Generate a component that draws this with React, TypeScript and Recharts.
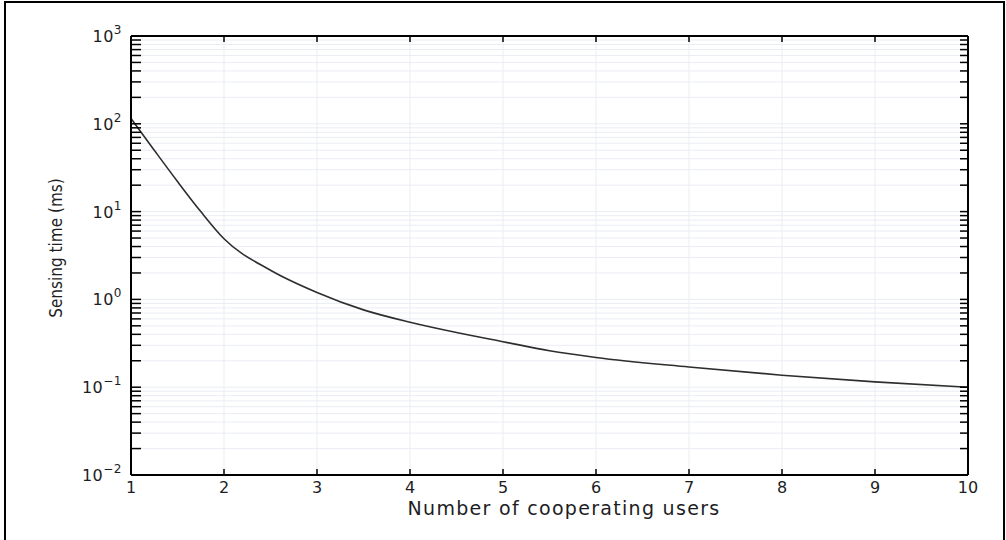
import React from "react"
import { LineChart, Line, XAxis, YAxis, CartesianGrid } from "recharts"

// number of cooperating users vs sensing time (ms)
const users = [1, 1.25, 1.5, 1.75, 2, 2.5, 3, 3.5, 4, 4.5, 5, 5.5, 6, 7, 8, 9, 10]
const sensingTime = [115, 50, 22, 10, 4.9, 2.15, 1.2, 0.76, 0.55, 0.42, 0.33, 0.26, 0.218, 0.17, 0.137, 0.115, 0.1]

const xTicks = [1, 2, 3, 4, 5, 6, 7, 8, 9, 10]
const yTicks = [
  0.01, 0.02, 0.03, 0.04, 0.05, 0.06, 0.07, 0.08, 0.09,
  0.1, 0.2, 0.3, 0.4, 0.5, 0.6, 0.7, 0.8, 0.9,
  1, 2, 3, 4, 5, 6, 7, 8, 9,
  10, 20, 30, 40, 50, 60, 70, 80, 90,
  100, 200, 300, 400, 500, 600, 700, 800, 900,
  1000,
]

const data = users.map((u, i) => ({ users: u, time: sensingTime[i] }))

const FONT = "'DejaVu Sans', Verdana, sans-serif"
const INK = "#1d1d24"

function isDecade(v: number) {
  const l = Math.log10(v)
  return Math.abs(l - Math.round(l)) < 1e-9
}

function LeftTick({ x, y, payload }: any) {
  const v = payload.value as number
  const exp = Math.round(Math.log10(v))
  return (
    <g>
      <line x1={x} x2={x + 10} y1={y} y2={y} stroke="#000" strokeWidth={1.5} />
      {isDecade(v) && (
        <text x={x - 9} y={y + 6} textAnchor="end" fontFamily={FONT} fontSize={16} letterSpacing={0.5} fill={INK}>
          10
          <tspan dy={-8} fontSize={12}>
            {exp < 0 ? `\u2212${-exp}` : exp}
          </tspan>
        </text>
      )}
    </g>
  )
}

function RightTick({ x, y }: any) {
  return <line x1={x - 8} x2={x} y1={y} y2={y} stroke="#000" strokeWidth={1.5} />
}

function BottomTick({ x, y, payload }: any) {
  return (
    <g>
      <line x1={x} x2={x} y1={y} y2={y - 6} stroke="#000" strokeWidth={1.5} />
      <text x={x} y={y + 18} textAnchor="middle" fontFamily={FONT} fontSize={16} fill={INK}>
        {payload.value}
      </text>
    </g>
  )
}

function TopTick({ x, y }: any) {
  return <line x1={x} x2={x} y1={y} y2={y + 6} stroke="#000" strokeWidth={1.5} />
}

export default function App() {
  return (
    <div style={{ position: "absolute", left: 0, top: 0, width: 1006, height: 540, background: "#fff", overflow: "hidden" }}>
      <div
        style={{
          position: "absolute",
          left: 4,
          top: 1,
          width: 997,
          height: 560,
          borderLeft: "2px solid #000",
          borderTop: "2px solid #000",
          borderRight: "2px solid #000",
        }}
      />
      <LineChart width={1006} height={540} data={data} margin={{ top: 26, right: 28, bottom: 35, left: 51 }}>
        <CartesianGrid stroke="#eaedf4" strokeWidth={1} />
        <XAxis
          dataKey="users"
          type="number"
          domain={[1, 10]}
          ticks={xTicks}
          height={30}
          tickSize={0}
          tickMargin={0}
          tickLine={false}
          axisLine={{ stroke: "#000", strokeWidth: 2 }}
          tick={<BottomTick />}
        />
        <XAxis
          xAxisId="top"
          orientation="top"
          dataKey="users"
          type="number"
          domain={[1, 10]}
          ticks={xTicks}
          height={10}
          tickSize={0}
          tickMargin={0}
          tickLine={false}
          axisLine={{ stroke: "#000", strokeWidth: 2 }}
          tick={<TopTick />}
        />
        <YAxis
          scale="log"
          domain={[0.01, 1000]}
          ticks={yTicks}
          width={80}
          tickSize={0}
          tickMargin={0}
          tickLine={false}
          interval={0}
          axisLine={{ stroke: "#000", strokeWidth: 2 }}
          tick={<LeftTick />}
          allowDataOverflow
        />
        <YAxis
          yAxisId="r"
          orientation="right"
          scale="log"
          domain={[0.01, 1000]}
          ticks={yTicks}
          width={10}
          tickSize={0}
          tickMargin={0}
          tickLine={false}
          interval={0}
          axisLine={{ stroke: "#000", strokeWidth: 2 }}
          tick={<RightTick />}
          allowDataOverflow
        />
        <Line
          type="monotone"
          dataKey="time"
          stroke="#2e2e2e"
          strokeWidth={1.6}
          dot={false}
          isAnimationActive={false}
        />
      </LineChart>
      <div
        style={{
          position: "absolute",
          left: 56,
          top: 248,
          transform: "translate(-50%, -50%) rotate(-90deg)",
          whiteSpace: "nowrap",
          fontFamily: "'Liberation Sans Narrow', 'DejaVu Sans Condensed', sans-serif",
          fontSize: 17,
          color: INK,
        }}
      >
        Sensing time (ms)
      </div>
      <div
        style={{
          position: "absolute",
          left: 564,
          top: 508,
          transform: "translate(-50%, -50%)",
          whiteSpace: "nowrap",
          fontFamily: FONT,
          fontSize: 19,
          letterSpacing: 1.3,
          color: INK,
        }}
      >
        Number of cooperating users
      </div>
    </div>
  )
}
